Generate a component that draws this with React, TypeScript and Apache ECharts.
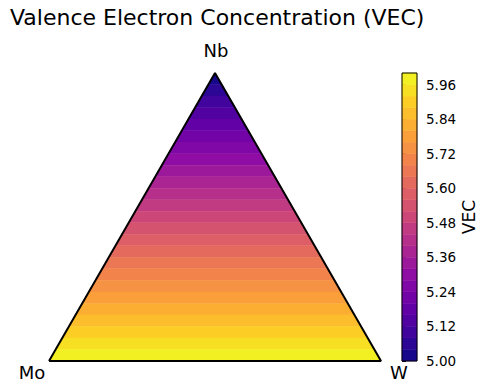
import React, { useEffect, useRef } from "react";
import * as echarts from "echarts";

// Data
const VERTEX_NAMES = ["Mo", "Nb", "W"];
const ELEMENT_VEC = [6, 5, 6]; // Mo, Nb, W
const LEVELS = [
  5.0, 5.04, 5.08, 5.12, 5.16, 5.2, 5.24, 5.28, 5.32, 5.36, 5.4, 5.44, 5.48,
  5.52, 5.56, 5.6, 5.64, 5.68, 5.72, 5.76, 5.8, 5.84, 5.88, 5.92, 5.96, 6.0,
];
const CBAR_TICKS = [5.0, 5.12, 5.24, 5.36, 5.48, 5.6, 5.72, 5.84, 5.96];
const PLASMA = [
  "#0d0887", "#41049d", "#6a00a8", "#8f0da4", "#b12a90", "#cc4778",
  "#e16462", "#f2844b", "#fca636", "#fcce25", "#f0f921",
];

const H = Math.sqrt(3) / 2;
const VMIN = LEVELS[0];
const VMAX = LEVELS[LEVELS.length - 1];
const FONT = "'DejaVu Sans', sans-serif";

// Nb fraction for a given VEC on the ternary (Mo,W have same VEC)
const nbFor = (vec: number) => (ELEMENT_VEC[0] - vec) / (ELEMENT_VEC[0] - ELEMENT_VEC[1]);

export default function App() {
  const ref = useRef<HTMLDivElement>(null);
  useEffect(() => {
    if (!ref.current) return;
    const chart = echarts.init(ref.current, null, { renderer: "svg" });
    const bands = LEVELS.slice(0, -1).map((lo, i) => [lo, LEVELS[i + 1]]);
    const colorOf = (lo: number, hi: number) =>
      echarts.color.lerp(((lo + hi) / 2 - VMIN) / (VMAX - VMIN), PLASMA);

    const vertices = [
      { name: VERTEX_NAMES[0], value: [0, 0], offset: [-17, 11] },
      { name: VERTEX_NAMES[1], value: [0.5, H], offset: [1, -23] },
      { name: VERTEX_NAMES[2], value: [1, 0], offset: [18, 11] },
    ];

    chart.setOption({
      animation: false,
      title: {
        text: "Valence Electron Concentration (VEC)",
        left: 5,
        top: 1,
        textStyle: { fontFamily: FONT, fontSize: 22, fontWeight: "normal", color: "#000" },
      },
      grid: [
        { left: 49, top: 73, width: 332, height: 288 },
        {
          left: 402, top: 73, width: 15, height: 288, show: true,
          borderColor: "#000", borderWidth: 1, backgroundColor: "transparent", z: 5,
        },
      ],
      xAxis: [
        { type: "value", gridIndex: 0, min: 0, max: 1, show: false },
        { type: "value", gridIndex: 1, min: 0, max: 1, show: false },
      ],
      yAxis: [
        { type: "value", gridIndex: 0, min: 0, max: H, show: false },
        {
          type: "value", gridIndex: 1, min: VMIN, max: VMAX, position: "right",
          name: "VEC", nameLocation: "middle", nameGap: 43, nameRotate: 90,
          nameTextStyle: { fontFamily: FONT, fontSize: 17, color: "#000" },
          axisLine: { show: false },
          splitLine: { show: false },
          axisTick: {
            show: true, length: 4, lineStyle: { color: "#000", width: 1 },
            customValues: CBAR_TICKS,
          },
          axisLabel: {
            show: true, margin: 9, color: "#000", fontFamily: FONT, fontSize: 13.5,
            customValues: CBAR_TICKS,
            formatter: (v: number) => v.toFixed(2),
          },
        },
      ],
      series: [
        {
          type: "custom",
          xAxisIndex: 0, yAxisIndex: 0,
          data: bands,
          renderItem: (params: any, api: any) => {
            const lo = api.value(0);
            const hi = api.value(1);
            const nTop = nbFor(lo);
            const nBot = nbFor(hi);
            const pts = [
              api.coord([nBot / 2, nBot * H]),
              api.coord([1 - nBot / 2, nBot * H]),
              api.coord([1 - nTop / 2, nTop * H]),
              api.coord([nTop / 2, nTop * H]),
            ];
            const c = colorOf(lo, hi);
            return {
              type: "polygon",
              shape: { points: pts },
              style: { fill: c, stroke: c, lineWidth: 0.5 },
            };
          },
        },
        {
          type: "custom",
          xAxisIndex: 1, yAxisIndex: 1,
          data: bands,
          renderItem: (params: any, api: any) => {
            const lo = api.value(0);
            const hi = api.value(1);
            const p0 = api.coord([0, hi]);
            const p1 = api.coord([1, lo]);
            const c = colorOf(lo, hi);
            return {
              type: "rect",
              shape: { x: p0[0], y: p0[1], width: p1[0] - p0[0], height: p1[1] - p0[1] },
              style: { fill: c, stroke: c, lineWidth: 0.5 },
            };
          },
        },
        {
          type: "line",
          xAxisIndex: 0, yAxisIndex: 0,
          data: [[0, 0], [0.5, H], [1, 0], [0, 0]],
          symbol: "none",
          lineStyle: { color: "#000", width: 2 },
          z: 4,
        },
        {
          type: "scatter",
          xAxisIndex: 0, yAxisIndex: 0,
          symbolSize: 0,
          itemStyle: { opacity: 1 },
          data: vertices.map((v) => ({
            name: v.name,
            value: v.value,
            label: {
              show: true, formatter: "{b}", position: "inside", offset: v.offset,
              fontFamily: FONT, fontSize: 18, color: "#000",
            },
          })),
          z: 6,
        },
      ],
    });
    return () => chart.dispose();
  }, []);
  return (
    <div
      ref={ref}
      style={{ position: "fixed", left: 0, top: 0, width: 485, height: 387, background: "#fff" }}
    />
  );
}
